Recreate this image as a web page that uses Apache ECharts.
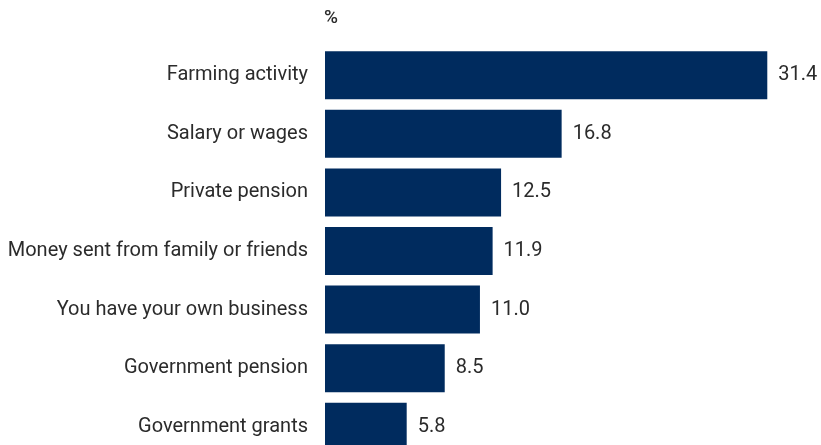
<!DOCTYPE html>
<html>
<head>
<meta charset="utf-8">
<script src="https://cdn.jsdelivr.net/npm/echarts@6/dist/echarts.min.js"></script>
<style>
  html, body { margin: 0; padding: 0; background: #fff; }
  #chart { width: 821px; height: 445px; }
</style>
</head>
<body>
<div id="chart"></div>
<script>
// Sources of income, share of respondents (%)
const categories = [
  'Farming activity',
  'Salary or wages',
  'Private pension',
  'Money sent from family or friends',
  'You have your own business',
  'Government pension',
  'Government grants'
];
const values = [31.4, 16.8, 12.5, 11.9, 11.0, 8.5, 5.8];
const unitLabel = '%';

const FONT = 'Roboto, sans-serif';
const TEXT = '#2b2b2b';
const BAR = '#002b5e';

const chart = echarts.init(document.getElementById('chart'), null, { renderer: 'canvas' });
chart.setOption({
  animation: false,
  backgroundColor: '#ffffff',
  graphic: [{
    type: 'text',
    left: 324,
    top: 9,
    style: {
      text: unitLabel,
      font: '500 19px Roboto, sans-serif',
      fill: TEXT
    }
  }],
  // last band runs past the bottom edge, so the grid is sized by height
  grid: {
    left: 325, top: 46, width: 493, height: 410,
    containLabel: false,
    outerBoundsMode: 'none'
  },
  xAxis: {
    type: 'value',
    min: 0,
    max: 35,
    show: false
  },
  yAxis: {
    type: 'category',
    data: categories,
    inverse: true,
    axisLine: { show: false },
    axisTick: { show: false },
    axisLabel: { margin: 17, fontFamily: FONT, fontSize: 20, color: TEXT }
  },
  series: [{
    type: 'bar',
    data: values,
    barCategoryGap: '18%',
    itemStyle: { color: BAR },
    label: {
      show: true,
      position: 'right',
      distance: 11,
      fontFamily: FONT,
      fontSize: 20,
      color: TEXT,
      formatter: p => p.value.toFixed(1)
    }
  }]
});
</script>
</body>
</html>
